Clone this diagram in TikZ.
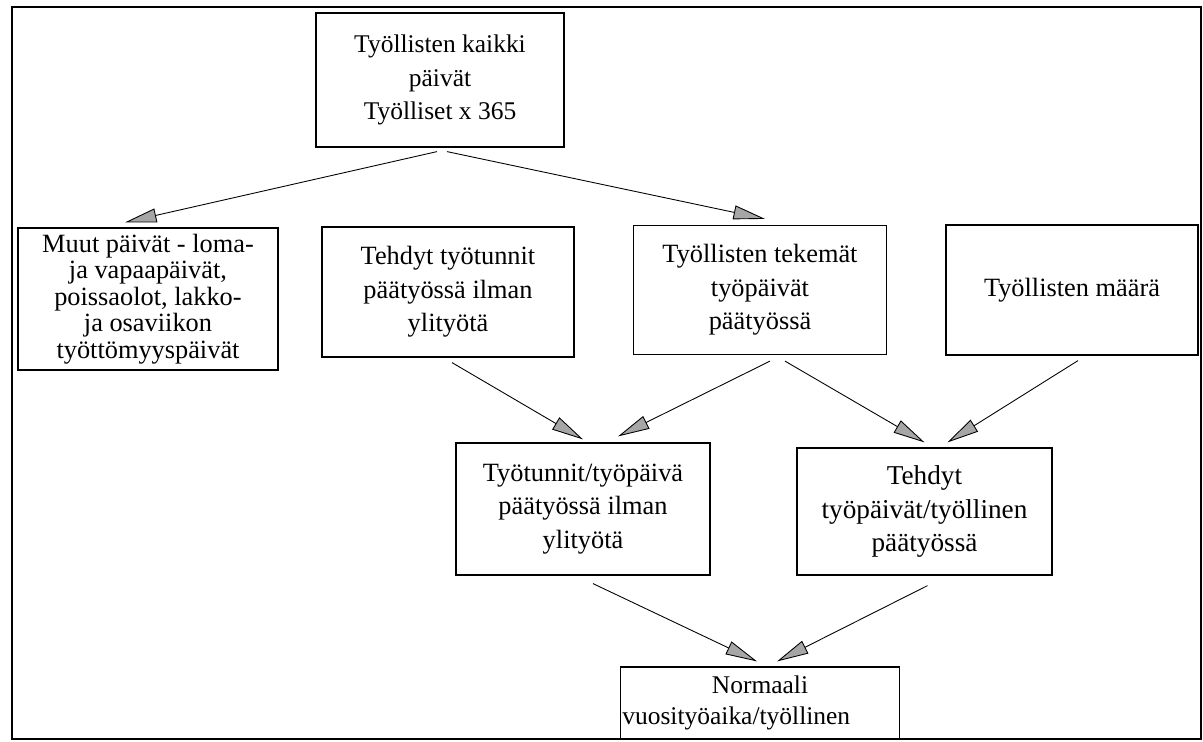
\documentclass[tikz,border=0pt]{standalone}
\usepackage{fontspec}
\setmainfont{Liberation Serif}
\usetikzlibrary{arrows.meta}
\usetikzlibrary{calc}
\tikzset{
laatikko/.style={shape=rectangle, draw, line width=0.7pt, inner sep=0pt, align=center, font=\fontsize{15}{19}\selectfont},
nuoli/.style={-{Triangle[length=18pt,width=8pt,fill=gray!70]}, line width=0.5pt}
}

\begin{document}
\begin{tikzpicture}[x=0.02cm, y=-0.02cm]
    \useasboundingbox (0,0) rectangle (1203,741);
    \draw[line width=0.8pt] (12,7) rectangle (1201,739);

                \node[laatikko, minimum width=4.96cm, minimum height=2.68cm, font=\fontsize{14.5}{19}\selectfont] (A) at (440,80) {Työllisten kaikki\\päivät\\Työlliset x 365};
                \node[laatikko, minimum width=5.2cm, minimum height=2.84cm, font=\fontsize{15}{15}\selectfont] (B) at (148,299) {Muut päivät - loma-\\ja vapaapäivät,\\poissaolot, lakko-\\ja osaviikon\\työttömyyspäivät};
                \node[laatikko, minimum width=5.04cm, minimum height=2.6cm] (C) at (448,292) {Tehdyt työtunnit\\päätyössä ilman\\ylityötä};
                \node[laatikko, minimum width=5.06cm, minimum height=2.58cm] (D) at (760,290) {Työllisten tekemät\\työpäivät\\päätyössä};
                \node[laatikko, minimum width=5.04cm, minimum height=2.6cm] (E) at (1072,290) {Työllisten määrä};
                \node[laatikko, minimum width=5.08cm, minimum height=2.64cm] (F) at (583,509) {Työtunnit/työpäivä\\päätyössä ilman\\ylityötä};
                \node[laatikko, minimum width=5.1cm, minimum height=2.54cm, font=\fontsize{15.5}{19}\selectfont] (G) at (924.5,511.5) {Tehdyt\\työpäivät/työllinen\\päätyössä};
                \node[laatikko, minimum width=5.58cm, minimum height=1.44cm, font=\fontsize{14.5}{17.5}\selectfont] (H) at (760,703) {Normaali\\vuosityöaika/työllinen\hspace*{0.95cm}};

                \draw[nuoli] ($(A.south)+(-3,4)$) -- ($(B.north)+(-23,-5)$);
                \draw[nuoli] ($(A.south)+(7,4)$) -- ($(D.north)+(5,-6)$);
                \draw[nuoli] ($(C.south)+(4,5)$) -- ($(F.north)+(0,-3)$);
                \draw[nuoli] ($(D.south)+(10,6)$) -- ($(F.north)+(35,-6)$);
                \draw[nuoli] ($(D.south)+(25,6)$) -- ($(G.north)+(0,-5)$);
                \draw[nuoli] ($(E.south)+(6,5)$) -- ($(G.north)+(23,-5)$);
                \draw[nuoli] ($(F.south)+(10,8)$) -- ($(H.north)+(-3,-5)$);
                \draw[nuoli] ($(G.south)+(3,10)$) -- ($(H.north)+(17,-5)$);

            \end{tikzpicture}
\end{document}
